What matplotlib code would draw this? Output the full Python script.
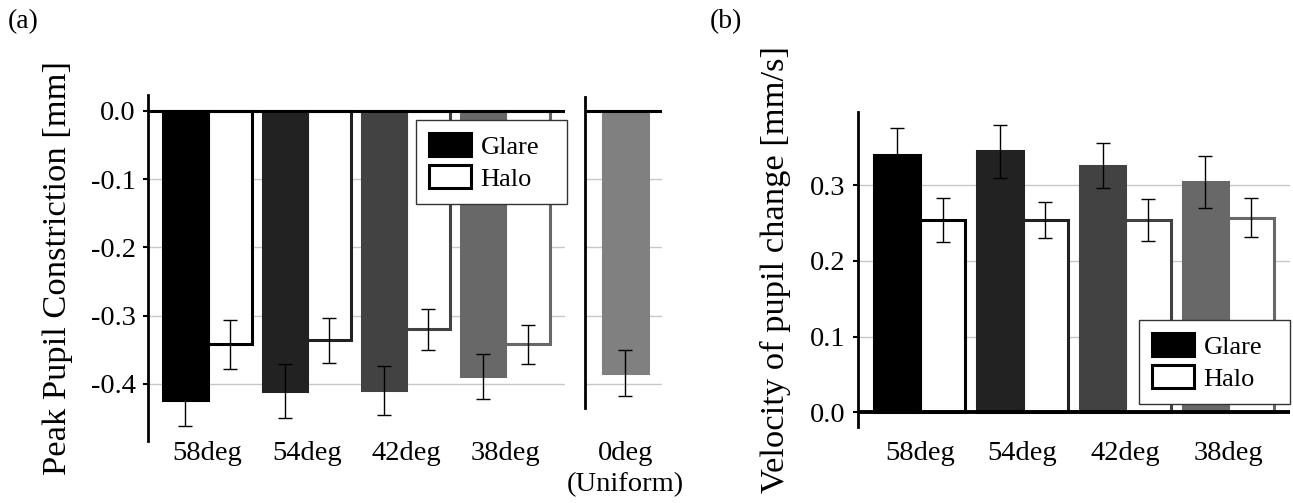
import matplotlib
matplotlib.use("Agg")
import matplotlib.pyplot as plt
from matplotlib.patches import Patch

plt.rcParams["font.family"] = ["Liberation Serif", "DejaVu Serif"]
plt.rcParams["axes.unicode_minus"] = False

# ---- data ----
angles = ["58deg", "54deg", "42deg", "38deg"]
uniform_label = "0deg\n(Uniform)"
shades = ["#000000", "#222222", "#424242", "#686868"]
uniform_shade = "#808080"

constr_glare = [-0.424, -0.410, -0.409, -0.389]
constr_glare_err = [0.038, 0.0395, 0.036, 0.033]
constr_halo = [-0.342, -0.336, -0.320, -0.342]
constr_halo_err = [0.036, 0.033, 0.030, 0.029]
constr_uniform = [-0.384]
constr_uniform_err = [0.033]

vel_glare = [0.340, 0.345, 0.326, 0.304]
vel_glare_err = [0.035, 0.035, 0.0295, 0.034]
vel_halo = [0.254, 0.254, 0.254, 0.257]
vel_halo_err = [0.0286, 0.0244, 0.028, 0.0258]

constr_ticks = [0.0, -0.1, -0.2, -0.3, -0.4]
vel_ticks = [0.0, 0.1, 0.2, 0.3]

# ---- styling ----
W = 0.445          # bar width
EDGE_LW = 2.2      # bar outline
TICK_FS = 20.5
LABEL_FS = 24.8
LEG_FS = 19
GRID_C = "#c8c8c8"
err_kw = dict(ecolor="black", elinewidth=1.0, capsize=5.3, capthick=1.0)

fig = plt.figure(figsize=(12.93, 5.03), dpi=100)

def px_axes(x0, x1, ytop, ybot):
    return fig.add_axes([x0 / 1293, (503 - ybot) / 503, (x1 - x0) / 1293, (ybot - ytop) / 503])

def style_axes(ax, ticks, show_ylabels=True):
    for s in ("top", "right", "bottom"):
        ax.spines[s].set_visible(False)
    ax.spines["left"].set_linewidth(2.0)
    ax.set_yticks(ticks)
    ax.yaxis.grid(True, color=GRID_C, linewidth=1.0, zorder=0)
    ax.set_axisbelow(True)
    if show_ylabels:
        ax.set_yticklabels([f"{t:.1f}" for t in ticks], fontsize=TICK_FS)
        ax.tick_params(axis="y", direction="out", length=3.5, width=1.5, pad=5.5)
    else:
        ax.set_yticklabels([])
        ax.tick_params(axis="y", length=0)

def grouped(ax, glare, glare_err, halo, halo_err):
    xs = list(range(len(glare)))
    gx = [x - W / 2 for x in xs]
    hx = [x + W / 2 for x in xs]
    ax.bar(hx, halo, W, color="white", edgecolor=shades, linewidth=EDGE_LW, zorder=2)
    ax.bar(gx, glare, W, color=shades, edgecolor=shades, linewidth=EDGE_LW, zorder=3)
    ax.errorbar(gx, glare, yerr=glare_err, fmt="none", zorder=4, **err_kw)
    ax.errorbar(hx, halo, yerr=halo_err, fmt="none", zorder=4, **err_kw)
    ax.set_xticks(xs)
    ax.set_xticklabels(angles, fontsize=TICK_FS)
    ax.set_xlim(-0.6, len(glare) - 0.4)

def legend(ax, box):
    handles = [Patch(facecolor="black", edgecolor="black", linewidth=EDGE_LW, label="Glare"),
               Patch(facecolor="white", edgecolor="black", linewidth=EDGE_LW, label="Halo")]
    leg = ax.legend(handles=handles, fontsize=LEG_FS, fancybox=False, framealpha=1,
                    edgecolor="#333333", handlelength=1.58, handleheight=0.95,
                    handletextpad=0.38, borderpad=0.5, labelspacing=0.25,
                    borderaxespad=0, loc="upper left", mode="expand",
                    bbox_to_anchor=box)
    leg.get_frame().set_linewidth(1.0)
    leg.set_zorder(10)

# ---- (a) peak pupil constriction ----
axa = px_axes(148, 565, 95, 440.7)
grouped(axa, constr_glare, constr_glare_err, constr_halo, constr_halo_err)
axa.set_ylim(-0.483, 0.023)
style_axes(axa, constr_ticks)
axa.axhline(0, color="black", linewidth=2.2, zorder=5)
axa.tick_params(axis="x", length=0, pad=0.3)
axa.set_ylabel("Peak Pupil Constriction [mm]", fontsize=LABEL_FS)
axa.yaxis.set_label_coords(-0.18, 0.5)
legend(axa, (0.642, 0.928 - 0.235, 1.004 - 0.642, 0.235))

# uniform stimulus shown as a separate axis
axu = px_axes(584.7, 661.7, 96.7, 408.3)
axu.bar([0], constr_uniform, 0.445, color=uniform_shade, edgecolor=uniform_shade,
        linewidth=EDGE_LW, zorder=3)
axu.errorbar([0], constr_uniform, yerr=constr_uniform_err, fmt="none", zorder=4, **err_kw)
axu.set_xlim(-0.41, 0.365)
axu.set_ylim(-0.4357, 0.0205)
style_axes(axu, constr_ticks, show_ylabels=False)
axu.axhline(0, color="black", linewidth=2.2, zorder=5)
axu.set_xticks([0])
axu.set_xticklabels([uniform_label], fontsize=TICK_FS, linespacing=1.3)
axu.tick_params(axis="x", length=0, pad=23.6)

# ---- (b) velocity of pupil change ----
axb = px_axes(858, 1290, 112.3, 426.7)
grouped(axb, vel_glare, vel_glare_err, vel_halo, vel_halo_err)
axb.set_ylim(-0.019, 0.3963)
style_axes(axb, vel_ticks)
axb.axhline(0, color="black", linewidth=2.8, zorder=5)
axb.tick_params(axis="x", length=0, pad=10.3)
axb.set_ylabel("Velocity of pupil change [mm/s]", fontsize=LABEL_FS)
axb.yaxis.set_label_coords(-0.155, 0.5)
legend(axb, (0.65, 0.0786, 0.35, 0.261))

fig.text(8 / 1293, 1 - 28 / 503, "(a)", fontsize=20, va="baseline", ha="left")
fig.text(710 / 1293, 1 - 28 / 503, "(b)", fontsize=20, va="baseline", ha="left")

fig.savefig("out.png", dpi=100)
